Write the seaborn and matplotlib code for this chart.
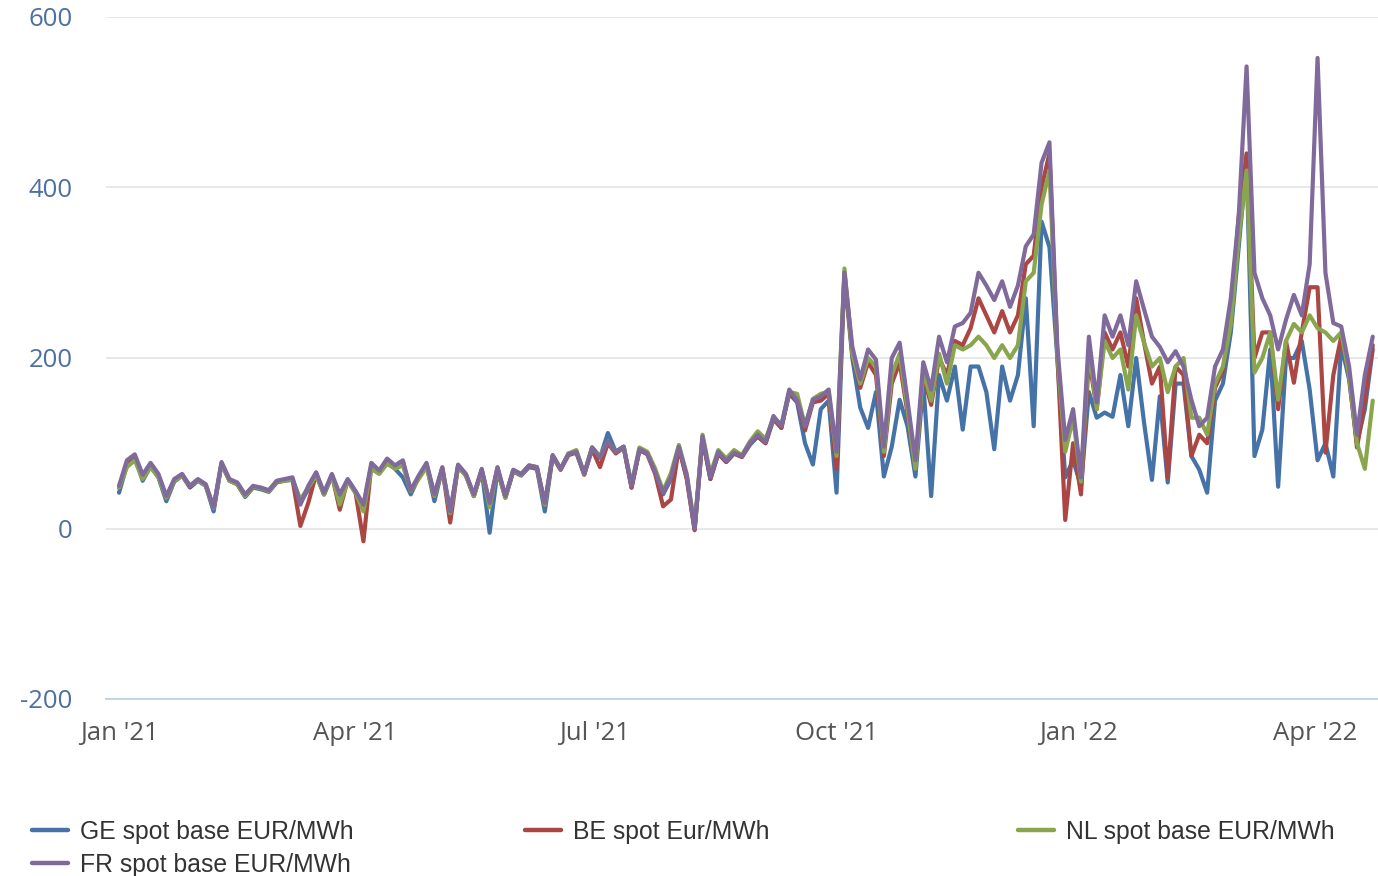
import pandas as pd
import matplotlib
matplotlib.use("Agg")
import matplotlib.pyplot as plt
import seaborn as sns

# daily spot prices, read every 3rd day from Jan 1 2021
start = "2021-01-01"
step = "3D"

fr_spot = [
    50, 80, 87, 63, 77, 64, 38, 58, 64, 50,
    58, 52, 25, 78, 58, 54, 40, 50, 48, 45,
    56, 58, 60, 28, 50, 66, 42, 64, 40, 58,
    44, 28, 77, 68, 82, 74, 80, 45, 62, 77,
    40, 72, 20, 75, 64, 40, 70, 30, 72, 38,
    69, 64, 74, 72, 30, 86, 70, 87, 90, 64,
    95, 83, 102, 90, 96, 50, 93, 88, 66, 42,
    60, 96, 62, 0, 108, 60, 90, 79, 89, 85,
    100, 110, 101, 132, 120, 163, 150, 120, 151, 155,
    163, 90, 300, 213, 175, 210, 198, 96, 200, 218,
    150, 80, 195, 163, 225, 195, 237, 241, 253, 300,
    285, 268, 290, 260, 285, 331, 345, 429, 453, 213,
    104, 140, 60, 225, 148, 250, 225, 250, 215, 290,
    257, 225, 213, 195, 208, 190, 151, 120, 130, 190,
    210, 270, 366, 542, 300, 270, 250, 210, 245, 274,
    250, 310, 552, 300, 241, 237, 190, 110, 180, 225,
]

nl_spot = [
    48, 72, 80, 58, 72, 60, 36, 56, 62, 50,
    57, 50, 24, 76, 56, 52, 38, 49, 47, 44,
    55, 56, 58, 34, 48, 62, 40, 62, 28, 56,
    42, 20, 70, 64, 76, 70, 74, 44, 58, 72,
    38, 70, 18, 72, 62, 38, 68, 25, 70, 36,
    68, 63, 74, 72, 28, 86, 70, 88, 92, 64,
    95, 85, 102, 90, 96, 52, 95, 90, 70, 44,
    65, 98, 64, 2, 110, 64, 92, 82, 92, 86,
    102, 114, 105, 130, 122, 160, 158, 120, 152, 158,
    160, 85, 305, 205, 170, 200, 190, 90, 180, 205,
    140, 70, 185, 150, 205, 170, 215, 210, 215, 225,
    215, 200, 215, 200, 215, 290, 300, 380, 420, 205,
    90, 130, 55, 210, 140, 220, 200, 210, 163, 250,
    218, 190, 200, 160, 190, 200, 130, 130, 110, 170,
    190, 240, 340, 420, 183, 200, 230, 151, 220, 240,
    230, 250, 235, 230, 220, 230, 180, 100, 70, 150,
]

be_spot = [
    48, 76, 84, 60, 74, 62, 36, 56, 63, 49,
    57, 51, 24, 76, 57, 52, 38, 49, 47, 44,
    55, 57, 58, 3, 30, 64, 40, 63, 22, 57,
    42, -15, 74, 66, 80, 72, 78, 44, 60, 75,
    38, 71, 7, 73, 63, 38, 69, 28, 71, 37,
    68, 63, 73, 71, 28, 85, 69, 86, 89, 63,
    93, 72, 100, 88, 95, 48, 92, 87, 64, 26,
    34, 95, 58, -2, 106, 58, 88, 78, 88, 84,
    100, 108, 100, 130, 118, 160, 150, 115, 148, 150,
    158, 70, 300, 205, 165, 195, 180, 85, 170, 195,
    135, 72, 180, 145, 200, 180, 220, 215, 235, 270,
    250, 230, 255, 230, 250, 310, 320, 400, 440, 205,
    10, 100, 40, 200, 140, 230, 210, 230, 190, 270,
    218, 170, 190, 60, 190, 180, 85, 110, 100, 165,
    185, 250, 366, 440, 200, 230, 230, 140, 220, 171,
    230, 283, 283, 89, 180, 225, 180, 95, 150, 215,
]

ge_spot = [
    42, 74, 84, 56, 73, 60, 32, 55, 62, 48,
    56, 50, 20, 76, 56, 52, 37, 48, 46, 43,
    54, 56, 57, 30, 46, 64, 40, 62, 38, 56,
    42, 25, 74, 66, 80, 70, 60, 40, 60, 74,
    32, 70, 18, 73, 62, 38, 68, -5, 68, 36,
    67, 62, 72, 70, 20, 85, 69, 88, 90, 64,
    95, 83, 112, 90, 96, 48, 92, 88, 66, 40,
    58, 95, 60, -1, 106, 58, 88, 78, 88, 84,
    98, 108, 100, 128, 118, 158, 148, 100, 75, 140,
    150, 42, 298, 200, 142, 118, 160, 61, 96, 151,
    120, 61, 170, 38, 180, 150, 190, 116, 190, 190,
    160, 93, 190, 150, 180, 270, 120, 360, 330, 200,
    60, 80, 50, 160, 130, 136, 131, 180, 120, 200,
    124, 57, 155, 54, 170, 170, 85, 69, 42, 150,
    170, 230, 330, 430, 85, 116, 210, 49, 200, 200,
    220, 163, 80, 100, 61, 215, 175, 100, 140, 210,
]

series_names = ["GE spot base EUR/MWh", "BE spot Eur/MWh",
                "NL spot base EUR/MWh", "FR spot base EUR/MWh"]
series_colors = ["#4572A7", "#AA4643", "#89A54E", "#80699B"]

tick_dates = ["2021-01-01", "2021-04-01", "2021-07-01",
              "2021-10-01", "2022-01-01", "2022-04-01"]
tick_labels = ["Jan '21", "Apr '21", "Jul '21", "Oct '21", "Jan '22", "Apr '22"]
y_ticks = [-200, 0, 200, 400, 600]
y_labels = ["-200", "0", "200", "400", "600"]

dates = pd.date_range(start, periods=len(fr_spot), freq=step)
wide = pd.DataFrame({
    series_names[0]: ge_spot,
    series_names[1]: be_spot,
    series_names[2]: nl_spot,
    series_names[3]: fr_spot,
}, index=dates)
df = wide.reset_index(names="date").melt(id_vars="date", var_name="series", value_name="price")

sns.set_style("white")
plt.rcParams["font.family"] = ["Open Sans", "DejaVu Sans"]

fig = plt.figure(figsize=(13.78, 8.76), dpi=100)
ax = fig.add_axes([106 / 1378, 1 - 699 / 876, 1 - 106 / 1378, (699 - 17) / 876])

sns.lineplot(data=df, x="date", y="price", hue="series", hue_order=series_names,
             palette=series_colors, linewidth=3.0, ax=ax, legend=False)

t0 = pd.Timestamp(start)
ax.set_xlim(t0 - pd.Timedelta(days=4.95), t0 + pd.Timedelta(days=479))
ax.set_ylim(-200, 600)

ax.set_yticks(y_ticks)
ax.set_yticklabels(y_labels, color="#4d70a3", fontsize=18.5)
ax.set_xticks(pd.to_datetime(tick_dates))
ax.set_xticklabels(tick_labels, color="#555555", fontsize=18.5)
ax.tick_params(axis="y", length=0, pad=24)
ax.tick_params(axis="x", length=7.5, width=1.1, color="#C0D0E0", pad=8.5)

ax.yaxis.grid(True, color="#e6e6e6", linewidth=1.3)
ax.xaxis.grid(False)
for side in ["top", "right", "left"]:
    ax.spines[side].set_visible(False)
ax.spines["bottom"].set_color("#C0D0E0")
ax.spines["bottom"].set_linewidth(1.3)
ax.set_xlabel("")
ax.set_ylabel("")

# legend: three fixed-width columns like the original
lines = {n: ax.lines[i] for i, n in enumerate(series_names)}
groups = [([series_names[0], series_names[3]], 32),
          ([series_names[1]], 525),
          ([series_names[2]], 1018)]
for names, xpix in groups:
    fig.legend([lines[n] for n in names], names, loc="upper left",
               bbox_to_anchor=(xpix / 1378, 1 - 820 / 876),
               frameon=False, handlelength=1.45, handletextpad=0.48,
               borderpad=0, borderaxespad=0, labelspacing=0.36,
               prop={"family": ["Liberation Sans"], "size": 17.8})
for leg in fig.legends:
    for txt in leg.get_texts():
        txt.set_color("#333333")
    for h in leg.legend_handles:
        h.set_linewidth(3.2)

fig.savefig("out.png", dpi=100)
